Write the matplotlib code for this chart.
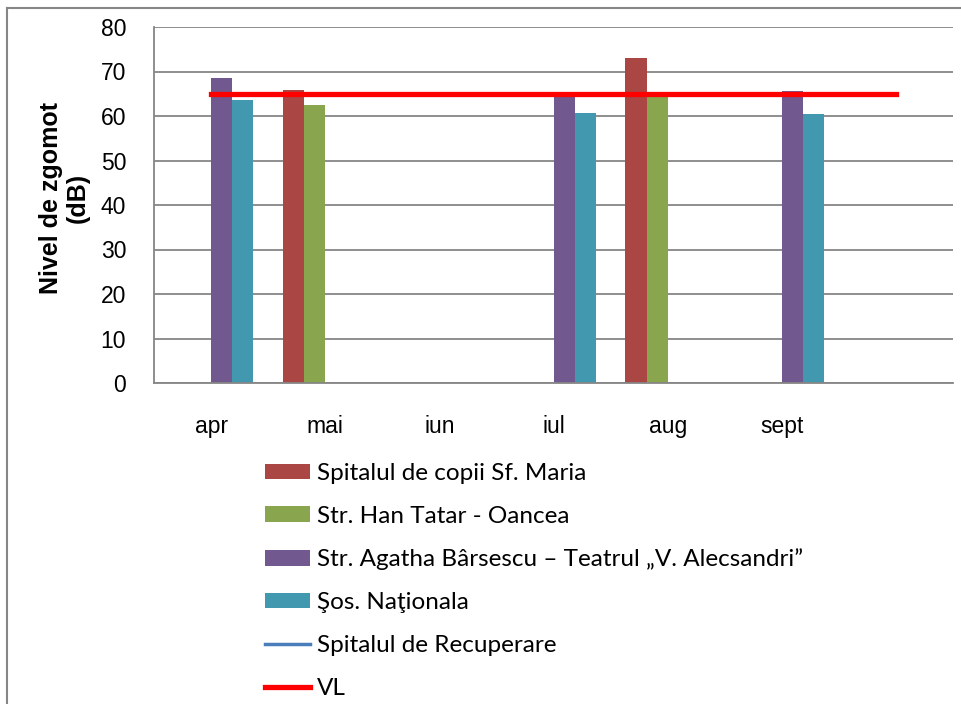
import numpy as np
import matplotlib
matplotlib.use("Agg")
import matplotlib.pyplot as plt
from matplotlib.lines import Line2D
from matplotlib import font_manager

# months on the category axis (last slot is empty in the original)
months = ["apr", "mai", "iun", "iul", "aug", "sept", ""]

# noise levels in dB, NaN = no measurement
sf_maria = [np.nan, 65.8, np.nan, np.nan, 73.0, np.nan, np.nan]
han_tatar = [np.nan, 62.5, np.nan, np.nan, 64.8, np.nan, np.nan]
agatha = [68.6, np.nan, np.nan, 65.0, np.nan, 65.6, np.nan]
sos_nationala = [63.6, np.nan, np.nan, 60.7, np.nan, 60.4, np.nan]
recuperare = [np.nan] * 7
vl = [65, 65, 65, 65, 65, 65, 65]

labels = ["Spitalul de copii Sf. Maria",
          "Str. Han Tatar - Oancea",
          "Str. Agatha Bârsescu \u2013 Teatrul \u201eV. Alecsandri\u201d",
          "\u015eos. Na\u0163ionala",
          "Spitalul de Recuperare",
          "VL"]
colors = ["#AA4643", "#89A54E", "#71588F", "#4198AF", "#4A7EBB", "#FF0000"]

names = {f.name for f in font_manager.fontManager.ttflist}
tick_font = "Liberation Sans Narrow" if "Liberation Sans Narrow" in names else "Liberation Sans"

fig = plt.figure(figsize=(9.61, 7.04), dpi=100)
ax = fig.add_axes([154/961, 1-383/704, 799/961, 356/704])

x = np.arange(len(months))
w = 0.185
bars = []
for k, vals in enumerate([sf_maria, han_tatar, agatha, sos_nationala]):
    b = ax.bar(x + (k - 2) * w, vals, w, align="edge", color=colors[k], zorder=2)
    bars.append(b)
ln_rec, = ax.plot(x, recuperare, color=colors[4], lw=2.5, zorder=3)
ln_vl, = ax.plot(x, vl, color=colors[5], lw=3.8, zorder=3)

ax.set_xlim(-0.5, 6.5)
ax.set_ylim(0, 80)
ax.set_yticks(range(0, 81, 10))
ax.set_xticks(x)
ax.set_xticklabels(months)
ax.grid(axis="y", color="#868686", lw=1.3, zorder=0)
for s in ["top", "right"]:
    ax.spines[s].set_visible(False)
for s in ["left", "bottom"]:
    ax.spines[s].set_color("#868686")
    ax.spines[s].set_linewidth(1.3)
ax.tick_params(axis="both", length=0)
ax.tick_params(axis="x", pad=23)
ax.tick_params(axis="y", pad=20)
for t in ax.get_xticklabels() + ax.get_yticklabels():
    t.set_fontfamily([tick_font, "DejaVu Sans"])
    t.set_fontsize(16.5)

fig.text(0.067, 1-198/704, "Nivel de zgomot\n(dB)", rotation=90, ha="center", va="center",
         fontsize=18, fontweight="bold", family=["Liberation Sans", "DejaVu Sans"],
         linespacing=1.15)

leg = fig.legend(bars + [ln_rec, ln_vl], labels, loc="upper left",
                 bbox_to_anchor=(243/961, 1-441/704), frameon=False,
                 prop={"family": ["Lato", "DejaVu Sans"], "size": 17.5},
                 handlelength=1.85, handleheight=0.6, handletextpad=0.3,
                 labelspacing=0.9)

# outer frame of the chart area
fig.add_artist(Line2D([7/961, 7/961], [0, 1-8/704], color="#868686", lw=1.5))
fig.add_artist(Line2D([7/961, 1], [1-8/704, 1-8/704], color="#868686", lw=1.5))

fig.savefig("out.png", dpi=100)
